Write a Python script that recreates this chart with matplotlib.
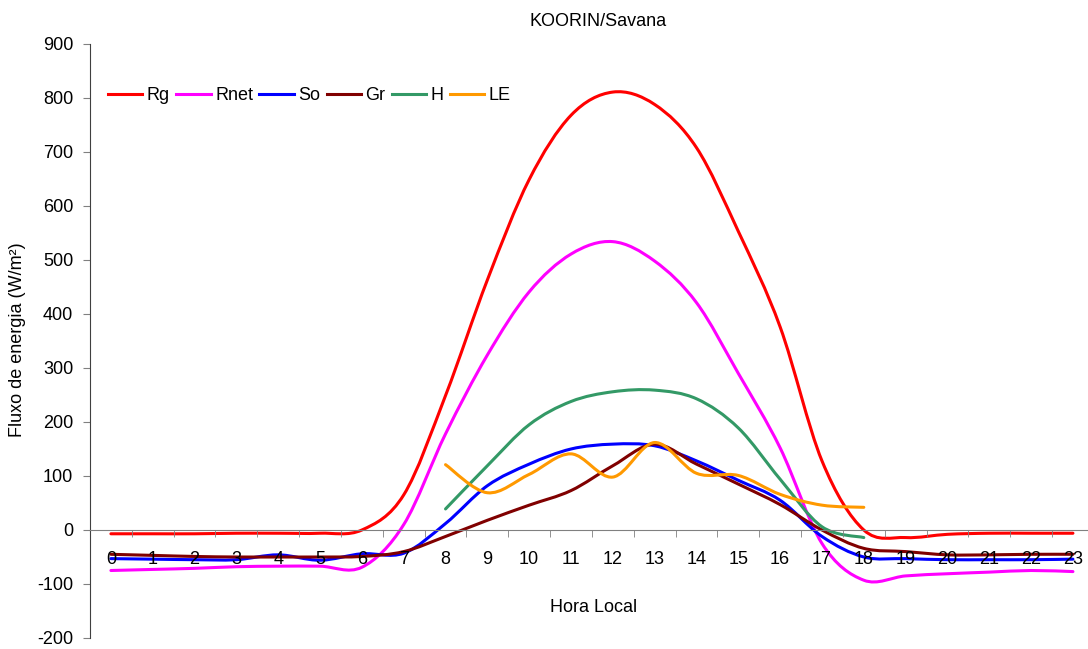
import numpy as np
import matplotlib
matplotlib.use("Agg")
import matplotlib.pyplot as plt
from matplotlib.path import Path
from matplotlib.patches import PathPatch
from matplotlib.lines import Line2D
from matplotlib.ticker import MultipleLocator, FixedLocator

plt.rcParams['font.family'] = ['Liberation Sans', 'DejaVu Sans']
plt.rcParams['font.size'] = 13
plt.rcParams['axes.unicode_minus'] = False

# hourly values (W/m2)
hours = list(range(24))
rg = [-7, -7, -7, -6, -6, -6, 0, 65, 249, 463, 649, 768, 811, 788, 708, 553,
      376, 128, 0, -14, -8, -6, -6, -6]
rnet = [-75, -73, -71, -68, -67, -67, -69, 10, 178, 324, 441, 511, 534, 498,
        421, 290, 152, -25, -93, -85, -81, -78, -75, -77]
so = [-53, -54, -55, -55, -46, -56, -44, -43, 12, 82, 122, 150, 159, 156, 128,
      92, 55, -12, -50, -53, -55, -55, -55, -54]
gr = [-45, -47, -49, -50, -50, -50, -49, -40, -12, 18, 46, 73, 119, 159, 122,
      85, 47, 0, -34, -40, -46, -46, -45, -45]
flux_hours = list(range(8, 19))
h_flux = [39, 119, 195, 238, 256, 259, 243, 189, 94, 6, -14]
le_flux = [121, 69, 103, 141, 98, 162, 105, 101, 66, 46, 42]

series = [
    ("Rg", hours, rg, "#FF0000"),
    ("Rnet", hours, rnet, "#FF00FF"),
    ("So", hours, so, "#0000FF"),
    ("Gr", hours, gr, "#800000"),
    ("H", flux_hours, h_flux, "#339966"),
    ("LE", flux_hours, le_flux, "#FF9900"),
]


def smooth_path(x, y):
    # Bezier curve through the points, like the smoothed lines of a spreadsheet
    pts = np.column_stack([x, y]).astype(float)
    n = len(pts)
    verts = [pts[0]]
    codes = [Path.MOVETO]
    for i in range(n - 1):
        p0 = pts[i - 1] if i > 0 else pts[i]
        p1 = pts[i]
        p2 = pts[i + 1]
        p3 = pts[i + 2] if i + 2 < n else pts[i + 1]
        verts += [p1 + (p2 - p0) / 6, p2 - (p3 - p1) / 6, p2]
        codes += [Path.CURVE4] * 3
    return Path(verts, codes)


fig = plt.figure(figsize=(10.88, 6.49), dpi=100)
ax = fig.add_axes([90 / 1088, 11 / 649, 1 - 90 / 1088, 594 / 649])

handles = []
for name, x, y, color in series:
    ax.add_patch(PathPatch(smooth_path(x, y), fill=False, edgecolor=color,
                           lw=2.2, capstyle='round', joinstyle='round'))
    handles.append(Line2D([], [], color=color, lw=2.2, label=name))

ax.set_xlim(-0.5, 23.36)
ax.set_ylim(-200, 900)
ax.yaxis.set_major_locator(MultipleLocator(100))

for s in ['top', 'right']:
    ax.spines[s].set_visible(False)
ax.spines['bottom'].set_position(('data', 0))
ax.spines['bottom'].set_color('#808080')
ax.spines['left'].set_color('#404040')

ax.xaxis.set_major_locator(FixedLocator(hours))
ax.xaxis.set_minor_locator(FixedLocator([h + 0.5 for h in hours]))
ax.set_xticklabels([str(h) for h in hours])
ax.tick_params(axis='x', which='major', length=0, pad=15, labelsize=13)
ax.tick_params(axis='x', which='minor', length=5, color='#808080')
ax.tick_params(axis='y', length=5, color='#808080', pad=7, labelsize=13)

fig.text(598 / 1088, 1 - 22 / 649, "KOORIN/Savana", ha='center', va='center', fontsize=13)
fig.text(594 / 1088, 1 - 608 / 649, "Hora Local", ha='center', va='center', fontsize=13)
fig.text(18 / 1088, 1 - 340 / 649, "Fluxo de energia (W/m²)", ha='center', va='center',
         rotation=90, fontsize=13)

fig.legend(handles=handles, loc='center left', ncol=6, frameon=False,
           bbox_to_anchor=(108 / 1088, 1 - 96 / 649), bbox_transform=fig.transFigure,
           borderpad=0, borderaxespad=0, handlelength=1.9, handletextpad=0.25,
           columnspacing=0.35, fontsize=13)

fig.savefig("out.png", dpi=100)
